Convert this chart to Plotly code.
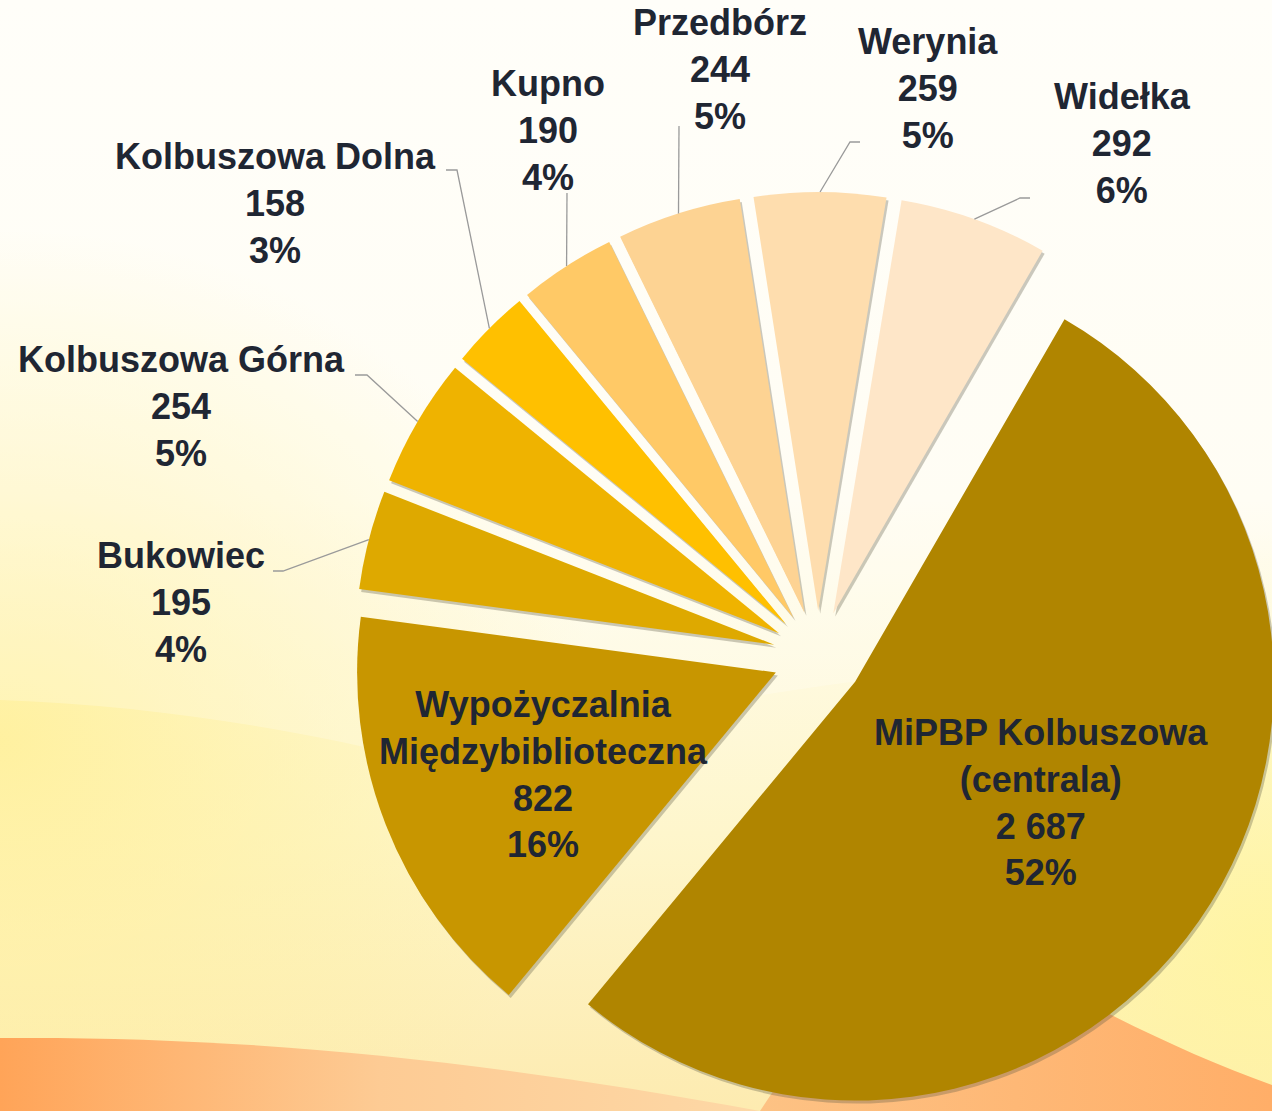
import base64
import math
import plotly.graph_objects as go

# ---------------- data (clockwise, starting with the largest slice) ----------------
labels = [
    "MiPBP Kolbuszowa (centrala)",
    "Wypożyczalnia Międzybiblioteczna",
    "Bukowiec",
    "Kolbuszowa Górna",
    "Kolbuszowa Dolna",
    "Kupno",
    "Przedbórz",
    "Werynia",
    "Widełka",
]
label_lines = [
    "MiPBP Kolbuszowa<br>(centrala)",
    "Wypożyczalnia<br>Międzybiblioteczna",
    "Bukowiec",
    "Kolbuszowa Górna",
    "Kolbuszowa Dolna",
    "Kupno",
    "Przedbórz",
    "Werynia",
    "Widełka",
]
values = [2687, 822, 195, 254, 158, 190, 244, 259, 292]
percent_labels = ["52%", "16%", "4%", "5%", "3%", "4%", "5%", "5%", "6%"]

# ---------------- styles ----------------
colors = ["#B08500", "#C89600", "#DEA900", "#EFB300", "#FFC000",
          "#FFC966", "#FDD393", "#FEDDAE", "#FEE6C8"]
TEXT_COLOR = "#1F2633"
FONT = "Liberation Sans, Arial, sans-serif"
FONT_SIZE = 36
LINE_COLOR = "#9A9A9A"

VW, VH = 1272, 1111              # visible window
W, H = 1300, 1140                # figure (the pie runs slightly past the window edge)
CX, CY, HALF = 818, 656, 464     # pie box centre / half size (pixels)
PULL = 0.108
ROTATION = 30
SHADOW_DX, SHADOW_DY = 2, 3

# label block centres (pixels) and leader line start/elbow points (pixels)
label_pos = {
    "MiPBP Kolbuszowa (centrala)": (1041, 802),
    "Wypożyczalnia Międzybiblioteczna": (543, 774),
    "Bukowiec": (181, 602),
    "Kolbuszowa Górna": (181, 406),
    "Kolbuszowa Dolna": (275, 203),
    "Kupno": (548, 130),
    "Przedbórz": (720, 70),
    "Werynia": (928, 88),
    "Widełka": (1122, 144),
}
leader_pts = {
    "Bukowiec": [(273, 571), (283, 571)],
    "Kolbuszowa Górna": [(355, 375), (367, 375)],
    "Kolbuszowa Dolna": [(446, 170), (457, 170)],
    "Kupno": [(567, 193)],
    "Przedbórz": [(679, 126)],
    "Werynia": [(860, 142), (850, 142)],
    "Widełka": [(1030, 198), (1020, 198)],
}


def px(x):
    return x / W


def py(y):
    return 1 - y / H


def domain(dx=0, dy=0):
    return dict(x=[px(CX + dx - HALF), px(CX + dx + HALF)],
                y=[py(CY + dy + HALF), py(CY + dy - HALF)])


fig = go.Figure()

# soft drop shadow: same pie, slightly offset, translucent grey
fig.add_trace(go.Pie(
    labels=labels, values=values, sort=False, direction="clockwise",
    rotation=ROTATION, pull=[PULL] * len(values),
    marker=dict(colors=["rgba(95,90,70,0.33)"] * len(values), line=dict(width=0)),
    textinfo="none", hoverinfo="skip", showlegend=False,
    domain=domain(SHADOW_DX, SHADOW_DY),
))

fig.add_trace(go.Pie(
    labels=labels, values=values, sort=False, direction="clockwise",
    rotation=ROTATION, pull=[PULL] * len(values),
    marker=dict(colors=colors, line=dict(width=0)),
    textinfo="none", hoverinfo="label+value+percent", showlegend=False,
    domain=domain(),
))

# ---------------- labels and leader lines ----------------
total = sum(values)
cum = 0
annotations = []
shapes = []
for name, lines, v, pct in zip(labels, label_lines, values, percent_labels):
    mid = math.radians(ROTATION + 360 * (cum + v / 2) / total)
    cum += v
    value_txt = f"{v:,}".replace(",", " ")
    lx, ly = label_pos[name]
    annotations.append(dict(
        x=px(lx), y=py(ly), xref="paper", yref="paper",
        text=f"{lines}<br>{value_txt}<br>{pct}", showarrow=False,
        xanchor="center", yanchor="middle", align="center",
        font=dict(family=FONT, size=FONT_SIZE, color=TEXT_COLOR, weight="bold"),
    ))
    if name in leader_pts:
        # outer arc point of the pulled slice at its mid angle
        ax = CX + HALF * math.sin(mid)
        ay = CY - HALF * math.cos(mid)
        pts = leader_pts[name] + [(ax, ay)]
        path = "M " + " L ".join(f"{px(x):.5f},{py(y):.5f}" for x, y in pts)
        shapes.append(dict(type="path", path=path, xref="paper", yref="paper",
                           line=dict(color=LINE_COLOR, width=1.3), layer="above"))

# ---------------- background (warm gradient with waves) ----------------
bg_svg = f"""<svg xmlns='http://www.w3.org/2000/svg' width='{W}' height='{H}' viewBox='0 0 {W} {H}' preserveAspectRatio='none'>
<defs>
<linearGradient id='base' x1='0' y1='0' x2='0' y2='{VH}' gradientUnits='userSpaceOnUse'>
<stop offset='0' stop-color='#FFFEF8'/>
<stop offset='0.45' stop-color='#FFFDF1'/>
<stop offset='0.75' stop-color='#FEF6CC'/>
<stop offset='1' stop-color='#FDEBB0'/>
</linearGradient>
<radialGradient id='glowL' cx='0' cy='740' r='600' gradientUnits='userSpaceOnUse' gradientTransform='translate(0,740) scale(1,0.85) translate(0,-740)'>
<stop offset='0' stop-color='#FFF09A' stop-opacity='0.9'/>
<stop offset='1' stop-color='#FFF09A' stop-opacity='0'/>
</radialGradient>
<radialGradient id='glowR' cx='{VW}' cy='950' r='420' gradientUnits='userSpaceOnUse'>
<stop offset='0' stop-color='#FFF5A0' stop-opacity='0.9'/>
<stop offset='1' stop-color='#FFF5A0' stop-opacity='0'/>
</radialGradient>
<linearGradient id='orL' x1='0' y1='0' x2='760' y2='0' gradientUnits='userSpaceOnUse'>
<stop offset='0' stop-color='#FFA458'/>
<stop offset='0.5' stop-color='#FDCB94'/>
<stop offset='1' stop-color='#FDD8A6'/>
</linearGradient>
<linearGradient id='orR' x1='760' y1='0' x2='{VW}' y2='0' gradientUnits='userSpaceOnUse'>
<stop offset='0' stop-color='#FDC284'/>
<stop offset='1' stop-color='#FFAE68'/>
</linearGradient>
</defs>
<rect width='{W}' height='{H}' fill='url(#base)'/>
<rect width='{W}' height='{H}' fill='url(#glowL)'/>
<rect width='{W}' height='{H}' fill='url(#glowR)'/>
<path d='M0,0 L{W},0 L{W},640 C900,660 600,720 420,760 C300,730 150,705 0,700 Z' fill='#FFFFFF' fill-opacity='0.22'/>
<path d='M0,1038 C250,1036 480,1060 760,{VH} L760,{H} L0,{H} Z' fill='url(#orL)'/>
<path d='M900,900 C1050,985 1160,1045 {VW},1085 L{W},1095 L{W},{H} L760,{H} L760,{VH} Z' fill='url(#orR)'/>
</svg>"""
bg_src = "data:image/svg+xml;base64," + base64.b64encode(bg_svg.encode("utf-8")).decode("ascii")

fig.update_layout(
    width=W, height=H,
    margin=dict(l=0, r=0, t=0, b=0),
    paper_bgcolor="#FFFEF6",
    plot_bgcolor="rgba(0,0,0,0)",
    annotations=annotations,
    shapes=shapes,
    images=[dict(source=bg_src, xref="paper", yref="paper", x=0, y=1,
                 sizex=1, sizey=1, xanchor="left", yanchor="top",
                 sizing="stretch", layer="below")],
    showlegend=False,
)

# page without the default body margin; the figure is clipped by the window
fig.write_html(
    "out.html",
    config={"displayModeBar": False},
    post_script="document.body.style.margin='0';document.body.style.overflow='hidden';",
)
